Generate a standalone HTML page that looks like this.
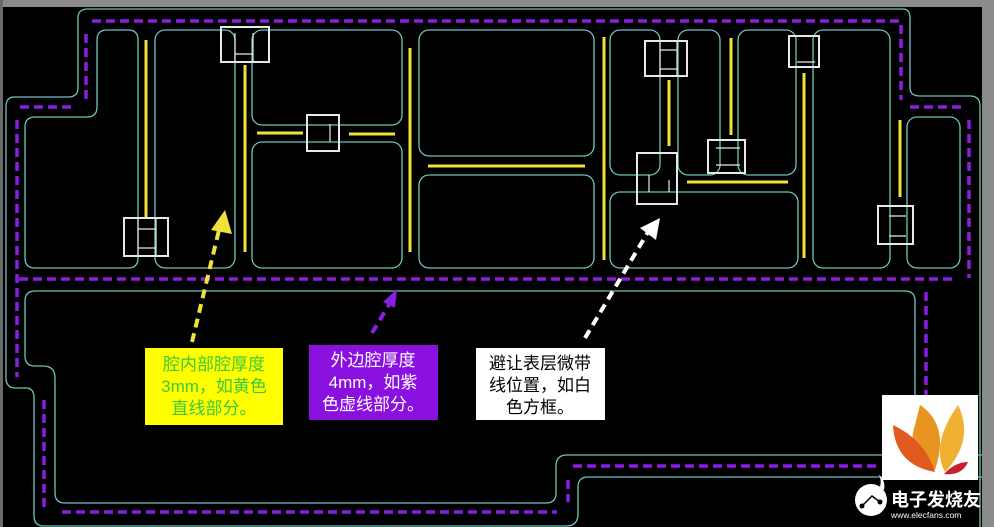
<!DOCTYPE html>
<html><head><meta charset="utf-8"><style>
html,body{margin:0;padding:0;background:#000;}
svg{display:block}
.t{font-family:"Liberation Sans","Noto Sans CJK SC",sans-serif;}
</style></head><body>
<svg width="994" height="527" viewBox="0 0 994 527" xmlns="http://www.w3.org/2000/svg">
<rect width="994" height="527" fill="#000"/>
<rect x="0" y="0" width="994" height="7" fill="#8a8a8a"/>
<rect x="982" y="0" width="12" height="527" fill="#8a8a8a"/>
<rect x="0" y="0" width="3" height="527" fill="#6a6a6a"/>
<g fill="none" stroke="#6fc4bd" stroke-width="1.3">
<!-- outer outline -->
<path d="M78,88 V18 Q78,9 88,9 H903 Q910,9 910,18 V88 Q910,96 920,96 H970 Q980,96 980,106 V527"/>
<path d="M78,88 Q78,97 68,97 H14 Q6,97 6,107 V378 Q6,388 16,388 H26 Q34,388 34,398 V516 Q34,526 44,526 H566 Q578,526 578,514 V487 Q578,477 588,477 H982"/>
<!-- cavities -->
<path d="M107,30 H128 Q138,30 138,40 V258 Q138,268 128,268 H35 Q25,268 25,258 V127 Q25,117 35,117 H87 Q97,117 97,107 V40 Q97,30 107,30 Z"/>
<rect x="155" y="30" width="80" height="238" rx="10"/>
<rect x="252" y="30" width="150" height="95" rx="10"/>
<rect x="252" y="142" width="150" height="126" rx="10"/>
<rect x="419" y="30" width="175" height="126" rx="10"/>
<rect x="419" y="175" width="175" height="93" rx="10"/>
<rect x="610" y="30" width="50" height="145" rx="10"/>
<rect x="678" y="30" width="42" height="145" rx="10"/>
<rect x="738" y="30" width="58" height="145" rx="10"/>
<rect x="610" y="192" width="188" height="76" rx="10"/>
<rect x="813" y="30" width="77" height="238" rx="10"/>
<rect x="907" y="117" width="53" height="151" rx="10"/>
<path d="M35,291 H905 Q915,291 915,301 V445 Q915,455 905,455 H567 Q556,455 556,466 V493 Q556,503 546,503 H65 Q55,503 55,493 V378 Q55,366 43,366 H35 Q25,366 25,356 V301 Q25,291 35,291 Z"/>
<path d="M905,455 H982"/>
</g>
<!-- purple dashed -->
<g fill="none" stroke="#8a1ee0" stroke-width="3.5" stroke-dasharray="9,5">
<path d="M92,21 H900"/>
<path d="M86,34 V100"/>
<path d="M20,107 H72"/>
<path d="M17,120 V377"/>
<path d="M44,400 V507"/>
<path d="M62,512 H557"/>
<path d="M568,480 V502"/>
<path d="M573,466 H880"/>
<path d="M901,25 V100"/>
<path d="M910,107 H962"/>
<path d="M969,120 V278"/>
<path d="M19,279 H955"/>
<path d="M926,292 V395"/>
</g>
<!-- yellow lines -->
<g stroke="#f0e23a" stroke-width="3" fill="none">
<path d="M146,40 V218"/><path d="M245,65 V252"/>
<path d="M257,133 H303"/><path d="M349,134 H395"/>
<path d="M410,48 V252"/><path d="M428,166 H585"/>
<path d="M604,37 V260"/><path d="M669,80 V146"/>
<path d="M731,38 V135"/><path d="M687,182 H788"/>
<path d="M804,73 V258"/><path d="M900,120 V197"/>
</g>
<!-- white boxes -->
<g stroke="#e8e8e8" stroke-width="2" fill="none">
<rect x="124" y="218" width="44" height="38"/>
<path d="M138,218 V256 M156,218 V256 M138,229 H156 M138,248 H156" stroke-width="1.2"/>
<rect x="221" y="27" width="48" height="35"/>
<path d="M235,33 V62 M253,33 V62 M235,54 H253" stroke-width="1.2"/>
<rect x="307" y="115" width="32" height="36"/>
<path d="M330,124 V142" stroke-width="1.2"/>
<rect x="645" y="41" width="42" height="35"/>
<path d="M660,41 V76 M677,41 V76 M660,50 H677 M660,69 H677" stroke-width="1.2"/>
<rect x="637" y="153" width="40" height="51"/>
<path d="M649,175 V192 M669,180 V192" stroke-width="1.2"/>
<rect x="708" y="140" width="37" height="33"/>
<path d="M716,148 H740 M716,165 H740" stroke-width="1.2"/>
<rect x="789" y="36" width="30" height="31"/>
<path d="M797,62 H815" stroke-width="1.2"/>
<rect x="878" y="206" width="35" height="38"/>
<path d="M889,216 H906 M889,236 H906" stroke-width="1.2"/>
</g>
<!-- arrows -->
<g stroke-width="4" fill="none" stroke-dasharray="9,6">
<path d="M192,342 L219,230" stroke="#f0e23a"/>
<path d="M372,333 L390,303" stroke="#8a1ee0"/>
<path d="M585,338 L648,232" stroke="#ffffff"/>
</g>
<polygon points="225,210 211,230 232,234" fill="#f0e23a"/>
<polygon points="397,289 383,302 395,308" fill="#8a1ee0"/>
<polygon points="660,218 640,228 656,240" fill="#ffffff"/>
<!-- text boxes -->
<rect x="145" y="348" width="138" height="77" fill="#ffff00"/>
<text class="t" fill="#3cc83c" font-size="17" text-anchor="middle"><tspan x="214" y="370">腔内部腔厚度</tspan><tspan x="214" y="392">3mm，如黄色</tspan><tspan x="214" y="414">直线部分。</tspan></text>
<rect x="309" y="345" width="129" height="75" fill="#8a10e0"/>
<text class="t" fill="#ffffff" font-size="17" text-anchor="middle"><tspan x="373" y="366">外边腔厚度</tspan><tspan x="373" y="388">4mm，如紫</tspan><tspan x="373" y="410">色虚线部分。</tspan></text>
<rect x="476" y="348" width="129" height="72" fill="#ffffff"/>
<text class="t" fill="#000" font-size="17" text-anchor="middle"><tspan x="540" y="369">避让表层微带</tspan><tspan x="540" y="391">线位置，如白</tspan><tspan x="540" y="413">色方框。</tspan></text>
<!-- logo -->
<rect x="882" y="395" width="96" height="85" fill="#ffffff"/>
<path d="M920,405 Q950,425 935,470 Q905,455 915,425 Z" fill="#e89420"/>
<path d="M958,405 Q975,440 945,472 Q930,445 958,405 Z" fill="#f0b030"/>
<path d="M893,425 Q925,440 935,472 Q895,465 893,425 Z" fill="#e05a1e"/>
<path d="M944,474 Q955,462 968,462 Q962,476 944,474 Z" fill="#c8202a"/>
<circle cx="871" cy="500" r="16" fill="#fff"/>
<path d="M880,487 Q882,478 878,474 Q886,480 884,490 Z" fill="#fff"/>
<path d="M862,506 L872,496 L880,502" stroke="#000" stroke-width="1.5" fill="none"/>
<circle cx="862" cy="506" r="2.5" fill="#000"/><circle cx="880" cy="502" r="2.5" fill="#000"/>
<text class="t" x="891" y="506" fill="#fff" font-size="18" font-weight="bold">电子发烧友</text>
<text class="t" x="891" y="518" fill="#fff" font-size="8.5">www.elecfans.com</text>
</svg>
</body></html>
